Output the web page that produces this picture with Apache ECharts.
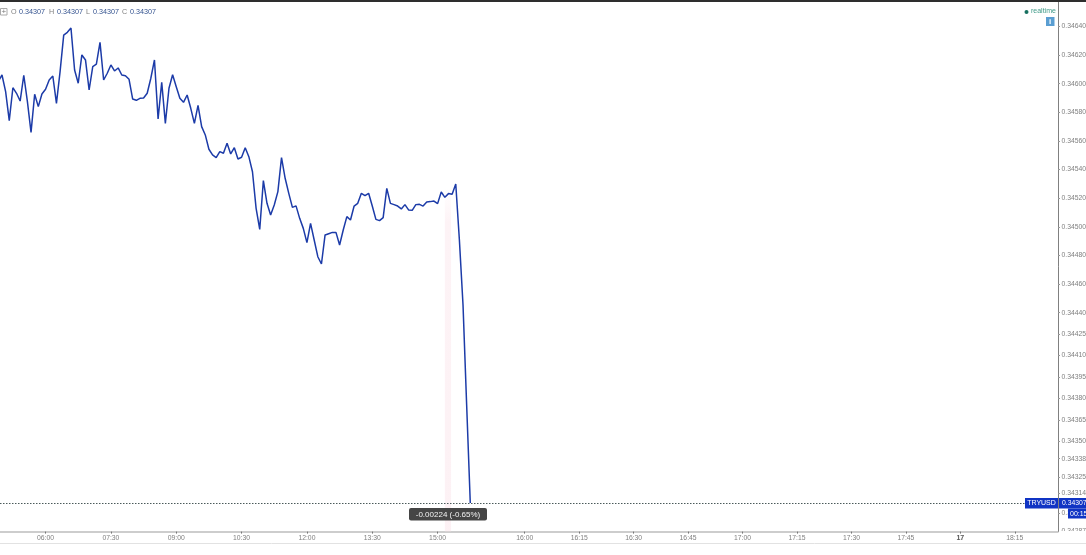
<!DOCTYPE html>
<html><head><meta charset="utf-8">
<style>html,body{margin:0;padding:0;background:#fff}#c{width:1086px;height:555px}</style>
<script src="https://cdn.jsdelivr.net/npm/echarts@6/dist/echarts.min.js"></script>
</head><body><div id="c"></div>
<script>
const closes = [
0.346017,0.346061,0.345945,0.345742,0.345972,0.345933,0.345879,0.346059,0.345875,0.345660,
0.345926,0.345840,0.345928,0.345961,0.346026,0.346054,0.345863,0.346084,0.346340,0.346359,
0.346389,0.346096,0.346003,0.346201,0.346166,0.345956,0.346119,0.346136,0.346289,0.346026,
0.346073,0.346131,0.346089,0.346110,0.346061,0.346056,0.346031,0.345893,0.345884,0.345898,
0.345900,0.345933,0.346038,0.346166,0.345754,0.346010,0.345723,0.345968,0.346063,0.345979,
0.345898,0.345870,0.345921,0.345828,0.345723,0.345849,0.345700,0.345642,0.345542,0.345502,
0.345483,0.345525,0.345514,0.345584,0.345509,0.345553,0.345474,0.345486,0.345553,0.345490,
0.345385,0.345129,0.344982,0.345323,0.345164,0.345083,0.345152,0.345246,0.345483,0.345339,
0.345234,0.345136,0.345146,0.345059,0.344989,0.344889,0.345024,0.344908,0.344791,0.344740,
0.344943,0.344952,0.344961,0.344961,0.344873,0.344978,0.345071,0.345048,0.345145,0.345164,
0.345234,0.345218,0.345234,0.345145,0.345052,0.345043,0.345064,0.345269,0.345164,0.345155,
0.345145,0.345125,0.345155,0.345118,0.345115,0.345155,0.345157,0.345145,0.345173,0.345176,
0.345180,0.345162,0.345243,0.345206,0.345232,0.345227,0.345299,0.344908,0.344454,0.343755,
0.34307];
const timeTickBars = [13,31,49,67,85,103,121,145,160,175,190,205,220,235,250,265,280];
const timeTickLabels = ['06:00','07:30','09:00','10:30','12:00','13:30','15:00','16:00','16:15','16:30','16:45','17:00','17:15','17:30','17:45','17','18:15'];
const priceTicks = [0.3464,0.3462,0.346,0.3458,0.3456,0.3454,0.3452,0.345,0.3448,0.3446,0.3444,0.34425,0.3441,0.34395,0.3438,0.34365,0.3435,0.34338,0.34325,0.34314,0.343,0.34287];
const lastPrice = 0.34307;
const symbolName = 'TRYUSD';
const countdown = '00:15';
const changeText = '-0.00224 (-0.65%)';
const ohlc = [['O',0.34307],['H',0.34307],['L',0.34307],['C',0.34307]];
const bandBars = [123.0,124.7];

const chart = echarts.init(document.getElementById('c'), null, {renderer:'canvas'});
const FONT = '"Liberation Sans",Arial,sans-serif';
const GRAY = '#808080', BLUE = '#1034c4';
const ohlcX = [[11,19],[49,57],[86,93],[122,130]];
const g = [
  {type:'rect',shape:{x:0,y:0,width:1086,height:2},style:{fill:'#2e2e2e'},z:20},
  {type:'rect',shape:{x:1059,y:531,width:27,height:24},style:{fill:'#fff'},z:20},
  {type:'line',shape:{x1:0,y1:543.5,x2:1086,y2:543.5},style:{stroke:'#e2e2e2',lineWidth:1},z:20},
  {type:'rect',shape:{x:0.5,y:8.5,width:6.5,height:6.5},style:{fill:'#fff',stroke:'#aaa',lineWidth:1},z:20},
  {type:'text',x:3.8,y:11.8,style:{text:'+',font:'8px '+FONT,fill:'#777',align:'center',verticalAlign:'middle'},z:21},
  {type:'circle',shape:{cx:1026.5,cy:12,r:2},style:{fill:'#17705f'},z:20},
  {type:'text',x:1031,y:11.5,style:{text:'realtime',font:'7px '+FONT,fill:'#3f9a88',verticalAlign:'middle'},z:20},
  {type:'rect',shape:{x:1046,y:17,width:8.5,height:9},style:{fill:'#5a9ed2'},z:20},
  {type:'text',x:1050.2,y:21.5,style:{text:'i',font:'bold 8px '+FONT,fill:'#fff',align:'center',verticalAlign:'middle'},z:21},
  {type:'rect',shape:{x:1025,y:498,width:33,height:10.5},style:{fill:BLUE},z:20},
  {type:'text',x:1041.5,y:503.3,style:{text:symbolName,font:'7px '+FONT,fill:'#fff',align:'center',verticalAlign:'middle'},z:21},
  {type:'rect',shape:{x:1059,y:498,width:27,height:10.5},style:{fill:BLUE},z:20},
  {type:'text',x:1062,y:503.3,style:{text:lastPrice.toFixed(5),font:'6.8px '+FONT,fill:'#fff',verticalAlign:'middle'},z:21},
  {type:'rect',shape:{x:1068,y:508.5,width:18,height:10},style:{fill:BLUE},z:20},
  {type:'text',x:1070,y:514,style:{text:countdown,font:'7px '+FONT,fill:'#fff',verticalAlign:'middle'},z:21},
  {type:'rect',shape:{x:409,y:508,width:78,height:12.5,r:2},style:{fill:'#454545'},z:20},
  {type:'text',x:448,y:514.5,style:{text:changeText,font:'8px '+FONT,fill:'#f2f2f2',align:'center',verticalAlign:'middle'},z:21}
];
ohlc.forEach((o,i)=>{
  g.push({type:'text',x:ohlcX[i][0],y:12,style:{text:o[0],font:'7.2px '+FONT,fill:GRAY,verticalAlign:'middle'},z:20});
  g.push({type:'text',x:ohlcX[i][1],y:12,style:{text:o[1].toFixed(5),font:'7.2px '+FONT,fill:'#33528f',verticalAlign:'middle'},z:20});
});

chart.setOption({
  animation:false,
  backgroundColor:'#fff',
  grid:{left:0,right:28,top:2,bottom:23.4,containLabel:false,outerBoundsMode:'none'},
  xAxis:{
    type:'value',min:0.45,max:291.9,
    splitLine:{show:false},
    axisLine:{show:true,onZero:false,lineStyle:{color:'#bdbdbd',width:1.5}},
    axisTick:{show:true,length:2,customValues:timeTickBars,lineStyle:{color:'#777',width:1}},
    axisLabel:{
      customValues:timeTickBars,margin:3,fontSize:6.8,fontFamily:FONT,color:GRAY,
      formatter:v=>{const t=timeTickLabels[timeTickBars.indexOf(v)];return t==='17'?'{b|17}':t;},
      rich:{b:{fontSize:7,fontWeight:'bold',color:'#555',fontFamily:FONT}}
    }
  },
  yAxis:{
    type:'value',position:'right',min:0.34287,max:0.346571,scale:true,
    splitLine:{show:false},
    axisLine:{show:true,onZero:false,lineStyle:{color:'#808080',width:1}},
    axisTick:{show:true,length:2,customValues:priceTicks,lineStyle:{color:'#999',width:1}},
    axisLabel:{customValues:priceTicks,margin:3.5,fontSize:6.8,fontFamily:FONT,color:GRAY,formatter:v=>v.toFixed(5)}
  },
  series:[{
    type:'line',
    data:closes.map((v,i)=>[i,v]),
    showSymbol:false,smooth:false,clip:true,
    lineStyle:{color:'#1c3ba8',width:1.5},
    markArea:{
      silent:true,
      itemStyle:{color:{type:'linear',x:0,y:0,x2:0,y2:1,colorStops:[{offset:0,color:'rgba(250,225,232,0)'},{offset:0.1,color:'rgba(250,225,232,0.4)'},{offset:1,color:'rgba(250,225,232,0.45)'}]}},
      data:[[{coord:[bandBars[0],0.34527]},{coord:[bandBars[1],0.34287]}]]
    },
    markLine:{
      silent:true,symbol:'none',animation:false,
      label:{show:false},
      lineStyle:{color:'#4a5a5a',type:[1.5,1.5],width:1},
      data:[[{coord:[0.45,lastPrice]},{coord:[282.8,lastPrice]}]]
    }
  }],
  graphic:g
});
</script></body></html>
